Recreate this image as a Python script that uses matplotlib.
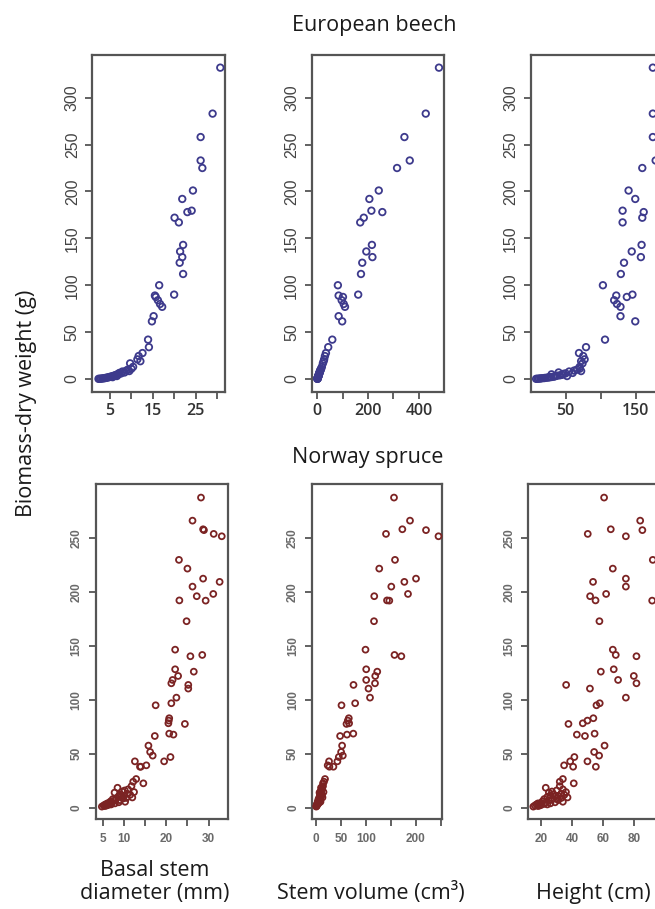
import matplotlib
matplotlib.use("Agg")
import matplotlib.pyplot as plt

# European beech: biomass (g) and the three predictors, same seedlings in all panels
beech_mass = [332, 283, 258, 233, 225, 201, 192, 179.5, 178, 172, 167, 143, 136, 130, 124, 112,
              100, 90, 89, 87.5, 84, 80, 77, 67, 61.5, 42, 34, 27.7, 24.5, 21, 19, 16.7, 13,
              11, 10, 9, 8.5, 8, 7, 6.5, 6, 5.5, 5, 4.5, 4, 3.5, 3.2, 3, 2.5, 2.2, 2, 1.8, 1.5,
              1.2, 1, 0.8, 0.6, 0.4, 0.3, 0.2]
beech_diameter = [30.8, 29.0, 26.2, 26.2, 26.6, 24.4, 21.9, 24.1, 23.1, 20.1, 21.1, 22.1, 21.4, 21.9,
                  21.3, 22.1, 16.5, 20.0, 15.5, 15.7, 16.2, 16.7, 17.2, 15.2, 14.8, 13.9, 14.1, 12.6,
                  11.7, 11.4, 12.1, 9.7, 10.4,
                  10.0, 9.2, 8.8, 9.5, 7.9, 8.4, 7.2, 7.6, 6.9, 7.0, 6.5, 6.2, 5.9, 6.6, 5.5, 5.2,
                  4.9, 5.6, 4.6, 4.3, 4.0, 3.8, 3.5, 3.2, 2.9, 2.6, 2.3]
beech_volume = [479, 427, 343, 364, 314, 242, 205, 213, 256, 183, 169, 215, 193, 217, 177, 172,
                81, 161, 84, 101, 96, 104, 109, 84, 98, 59, 43, 34, 30, 27, 25, 22, 18,
                15, 13, 12, 11, 10, 9, 8.5, 8, 7, 6.5, 6, 5, 4.5, 4.5, 4, 3.5, 3, 2.8, 2.5, 2,
                1.8, 1.5, 1.2, 1, 0.8, 0.5, 0.3]
beech_height = [174, 174, 174, 178, 159, 139.5, 149, 131, 161, 159, 131, 158, 144, 157, 133, 128.5,
                103, 145, 122, 137, 119, 123, 128, 128, 149, 106, 79, 69, 75, 77, 72, 74, 70,
                70, 66, 62, 72, 55, 40, 60, 50, 47, 30, 45, 42, 38, 52, 35, 33, 30, 28, 26, 24,
                21, 19, 16, 14, 12, 10, 8]

# Norway spruce
spruce_mass = [287.7, 266.3, 258.3, 257.5, 254, 251.8, 229.9, 221.8, 212.5, 209.5, 205.1, 198.3,
               196.2, 192.3, 192.1, 173, 146.6, 141.7, 140.5, 128.4, 126.2, 122.2, 118.5, 115.4,
               113.9, 110.5, 102.1, 96.9, 95, 83, 80.8, 78.3, 77.7, 68.7, 67.8, 66.5, 57.6, 51.7,
               48.3, 47, 43, 43, 39.3, 38, 38, 26.6, 24.1, 22.6,
               20, 18.5, 17, 16, 15, 14.5, 14, 13, 12.5, 12, 11.5, 11, 10.5, 10, 9.5, 9, 8.5, 8,
               7.5, 7, 6.5, 6, 5.5, 5, 5, 4.5, 4, 4, 3.5, 3, 3, 2.5, 2, 2, 1.5, 1]
spruce_diameter = [28.2, 26.2, 28.7, 28.9, 31.2, 33.1, 23.0, 25.0, 28.7, 32.6, 26.2, 31.1, 27.2, 23.1,
                   29.3, 24.8, 22.1, 28.5, 25.7, 22.1, 26.5, 22.8, 21.5, 21.2, 25.2, 25.2, 22.4,
                   21.2, 17.5, 20.7, 20.6, 20.5, 24.4, 20.7, 21.7, 17.3, 15.8, 16.2, 16.8, 21.0,
                   19.5, 12.6, 15.3, 14.0, 13.8, 12.9, 12.2, 14.6,
                   11.8, 8.5, 11, 10.2, 9.6, 12.4, 7.8, 10.8, 9.2, 11.5, 8.9, 10, 9.5, 8.7, 12,
                   10.6, 9.8, 7.4, 8.1, 9.1, 7.7, 6.9, 10.3, 7.2, 8.8, 6.5, 6.1, 7.9, 6.8, 5.6,
                   7.0, 6.3, 5.9, 5.2, 5.5, 4.8]
spruce_volume = [156, 188, 172.7, 220, 140, 245, 158, 126.5, 200, 176.7, 150.6, 184, 116.5, 142,
                 146.6, 116, 99, 157, 170.7, 100.4, 122.5, 118.5, 100.4, 118, 75, 105, 108, 78.3,
                 51, 65.6, 63.6, 66.2, 61, 74.6, 62, 48.2, 52.2, 50.2, 53.6, 45.6, 42.8, 26.1,
                 23.4, 26.8, 34.8, 18, 16, 14,
                 14, 10, 12, 11, 9, 15, 7, 11, 8, 12, 8, 9, 10, 7, 13, 9, 8, 5, 6, 7, 5, 4, 9, 4,
                 6, 3, 3, 5, 3, 2, 3, 2, 1.5, 1, 1, 0.5]
spruce_height = [60.5, 83.7, 64.8, 85.1, 50, 74.5, 91.8, 66.1, 74.5, 53.4, 74.5, 61.8, 51.5, 55,
                 91.4, 57.5, 66.1, 68, 81.3, 66.7, 58.4, 79.6, 69.5, 81.3, 36.1, 51.4, 74.5, 57.7,
                 55.6, 53.6, 49.8, 46.8, 37.6, 54.4, 43, 48.2, 60.8, 54.1, 57.3, 41.4, 49.8, 38.7,
                 34.8, 40.6, 55.2, 34, 32, 41,
                 32, 23, 34, 30, 27, 36, 25, 33, 28, 35, 26, 31, 29, 24, 37, 33, 30, 22, 27, 31,
                 25, 21, 34, 23, 29, 20, 18, 26, 22, 17, 24, 20, 19, 16, 18, 15]

TEXT_FONT = ["Open Sans", "DejaVu Sans"]
AXIS_GREY = "#555555"

fig = plt.figure(figsize=(6.55, 9.09), dpi=100)


def panel(rect, x, y, color, xlim, ylim, xticks, xlabels, yticks, top_row):
    ax = fig.add_axes(rect)
    ax.scatter(x, y, s=22 if top_row else 18, facecolors="none", edgecolors=color,
               linewidths=1.3, clip_on=False, zorder=3)
    ax.set_xlim(xlim)
    ax.set_ylim(ylim)
    for sp in ax.spines.values():
        sp.set_color(AXIS_GREY)
        sp.set_linewidth(1.6)
    ax.set_xticks(xticks)
    ax.set_xticklabels(xlabels)
    ax.set_yticks(yticks)
    ax.set_yticklabels([str(v) for v in yticks])
    ax.tick_params(length=5, width=1.3, color=AXIS_GREY)
    ax.tick_params(axis="y", labelrotation=90)
    if top_row:
        ax.tick_params(axis="x", pad=3.5, labelsize=11.5, labelcolor="#333333")
        ax.tick_params(axis="y", pad=4, labelsize=11.5, labelcolor="#444444")
        for t in ax.get_xticklabels():
            t.set_family(TEXT_FONT)
            t.set_fontweight("semibold")
        for t in ax.get_yticklabels():
            t.set_family("Liberation Sans")
    else:
        ax.tick_params(axis="x", pad=5, labelsize=8.5, labelcolor="#6a6a6a")
        ax.tick_params(axis="y", pad=4.5, labelsize=8.5, labelcolor="#6a6a6a")
        for t in ax.get_xticklabels() + ax.get_yticklabels():
            t.set_family("Liberation Sans")
            t.set_fontweight("bold")
    for t in ax.get_yticklabels():
        t.set_verticalalignment("center")
    return ax


beech_col = "#3d3a8c"
spruce_col = "#7b2323"
top_b, top_h = 0.5691, 0.3704
bot_b, bot_h = 0.0990, 0.3682

panel([0.1409, top_b, 0.2026, top_h], beech_diameter, beech_mass, beech_col,
      (0.85, 31.9), (-13.5, 345.5), [5, 10, 15, 20, 25, 30], ["5", "", "15", "", "25", ""],
      [0, 50, 100, 150, 200, 250, 300], True)
panel([0.4759, top_b, 0.2024, top_h], beech_volume, beech_mass, beech_col,
      (-22, 500), (-13.5, 345.5), [0, 100, 200, 300, 400], ["0", "", "200", "", "400"],
      [0, 50, 100, 150, 200, 250, 300], True)
panel([0.8102, top_b, 0.2026, top_h], beech_height, beech_mass, beech_col,
      (0.3, 189), (-13.5, 345.5), [50, 100, 150], ["50", "", "150"],
      [0, 50, 100, 150, 200, 250, 300], True)

panel([0.1461, bot_b, 0.2015, bot_h], spruce_diameter, spruce_mass, spruce_col,
      (3.35, 34.5), (-10.5, 300), [5, 10, 15, 20, 25, 30], ["5", "10", "", "20", "", "30"],
      [0, 50, 100, 150, 200, 250], False)
panel([0.4768, bot_b, 0.1980, bot_h], spruce_volume, spruce_mass, spruce_col,
      (-7.4, 252), (-10.5, 300), [0, 50, 100, 150, 200, 250], ["0", "50", "100", "", "200", ""],
      [0, 50, 100, 150, 200, 250], False)
panel([0.8066, bot_b, 0.2000, bot_h], spruce_height, spruce_mass, spruce_col,
      (11.8, 96), (-10.5, 300), [20, 40, 60, 80], ["20", "40", "60", "80"],
      [0, 50, 100, 150, 200, 250], False)

# titles and axis labels
label_kw = dict(fontsize=15.5, family=TEXT_FONT, color="#1a1a1a")
fig.text(374 / 655, 1 - 26 / 909, "European beech", ha="center", va="center", **label_kw)
fig.text(368 / 655, 1 - 457 / 909, "Norway spruce", ha="center", va="center", **label_kw)
fig.text(27 / 655, 1 - 403 / 909, "Biomass-dry weight (g)", rotation=90, ha="center",
         va="center", **label_kw)
fig.text(155 / 655, 1 - 882 / 909, "Basal stem\ndiameter (mm)", ha="center", va="center",
         linespacing=1.1, **label_kw)
fig.text(371 / 655, 1 - 893 / 909, "Stem volume (cm³)", ha="center", va="center", **label_kw)
fig.text(593 / 655, 1 - 893 / 909, "Height (cm)", ha="center", va="center", **label_kw)

fig.savefig("out.png", dpi=100)
